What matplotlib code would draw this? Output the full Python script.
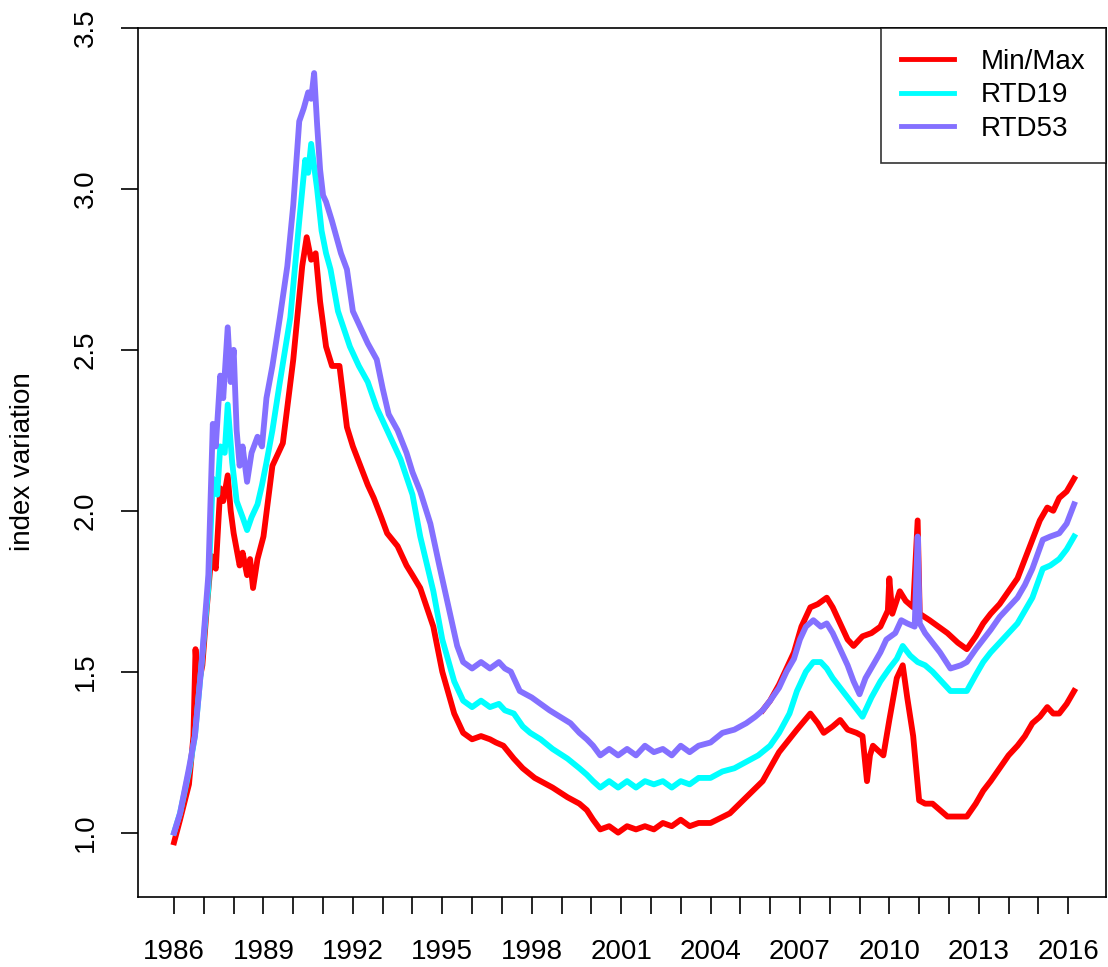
import matplotlib
matplotlib.use("Agg")
import matplotlib.pyplot as plt

plt.rcParams['font.family'] = ['Liberation Sans', 'DejaVu Sans']

# ---- data (year, value) ----
rtd53_t = [1986.0, 1986.2, 1986.5, 1986.7, 1986.9, 1987.05, 1987.15, 1987.3, 1987.4, 1987.55,
           1987.65, 1987.8, 1987.9, 1988.0, 1988.1, 1988.2, 1988.3, 1988.45, 1988.6, 1988.8,
           1988.95, 1989.1, 1989.3, 1989.55, 1989.8, 1990.0, 1990.2, 1990.35, 1990.5, 1990.6,
           1990.7, 1990.8, 1990.9, 1991.0, 1991.1, 1991.3, 1991.45, 1991.6, 1991.8, 1992.0,
           1992.25, 1992.5, 1992.8, 1993.0, 1993.2, 1993.5, 1993.8, 1994.0, 1994.26, 1994.6,
           1994.9, 1995.26, 1995.5, 1995.7, 1996.0, 1996.3, 1996.6, 1996.9, 1997.1, 1997.3,
           1997.6, 1998.0, 1998.3, 1998.6, 1998.95, 1999.3, 1999.6, 1999.85, 2000.06, 2000.3,
           2000.6, 2000.9, 2001.2, 2001.5, 2001.8, 2002.1, 2002.4, 2002.7, 2003.0, 2003.3,
           2003.6, 2004.0, 2004.4, 2004.8, 2005.2, 2005.5, 2005.75, 2006.0, 2006.3, 2006.55,
           2006.8, 2007.0, 2007.2, 2007.45, 2007.7, 2007.9, 2008.1, 2008.35, 2008.6, 2008.8,
           2009.0, 2009.2, 2009.45, 2009.7, 2009.9, 2010.2, 2010.4, 2010.6, 2010.85, 2010.95,
           2011.02, 2011.2, 2011.45, 2011.7, 2012.05, 2012.4, 2012.6, 2012.9, 2013.15, 2013.4,
           2013.7, 2014.0, 2014.3, 2014.55, 2014.8, 2015.15, 2015.4, 2015.7, 2015.95, 2016.2]
rtd53_v = [1.00, 1.06, 1.20, 1.30, 1.50, 1.68, 1.80, 2.27, 2.20, 2.42,
           2.35, 2.57, 2.40, 2.50, 2.25, 2.14, 2.20, 2.09, 2.18, 2.23,
           2.20, 2.35, 2.45, 2.60, 2.76, 2.95, 3.21, 3.25, 3.30, 3.28,
           3.36, 3.20, 3.06, 2.98, 2.96, 2.90, 2.85, 2.80, 2.75, 2.62,
           2.57, 2.52, 2.47, 2.38, 2.30, 2.25, 2.18, 2.12, 2.06, 1.96,
           1.83, 1.68, 1.58, 1.53, 1.51, 1.53, 1.51, 1.53, 1.51, 1.50,
           1.44, 1.42, 1.40, 1.38, 1.36, 1.34, 1.31, 1.29, 1.27, 1.24,
           1.26, 1.24, 1.26, 1.24, 1.27, 1.25, 1.26, 1.24, 1.27, 1.25,
           1.27, 1.28, 1.31, 1.32, 1.34, 1.36, 1.38, 1.41, 1.45, 1.50,
           1.54, 1.60, 1.64, 1.66, 1.64, 1.65, 1.62, 1.57, 1.52, 1.47,
           1.43, 1.48, 1.52, 1.56, 1.60, 1.62, 1.66, 1.65, 1.64, 1.92,
           1.65, 1.62, 1.59, 1.56, 1.51, 1.52, 1.53, 1.57, 1.60, 1.63,
           1.67, 1.70, 1.73, 1.77, 1.82, 1.91, 1.92, 1.93, 1.96, 2.02]

rtd19_t = [1986.0, 1986.2, 1986.5, 1986.7, 1986.9, 1987.05, 1987.15, 1987.3, 1987.45, 1987.55,
           1987.7, 1987.8, 1987.95, 1988.1, 1988.3, 1988.45, 1988.6, 1988.8, 1988.95, 1989.1,
           1989.3, 1989.55, 1989.9, 1990.2, 1990.4, 1990.5, 1990.6, 1990.8, 1990.95, 1991.1,
           1991.25, 1991.5, 1991.9, 1992.2, 1992.5, 1992.8, 1993.0, 1993.3, 1993.6, 1994.0,
           1994.26, 1994.7, 1995.0, 1995.4, 1995.7, 1996.0, 1996.3, 1996.6, 1996.9, 1997.1,
           1997.4, 1997.7, 1997.95, 1998.3, 1998.7, 1999.2, 1999.6, 1999.85, 2000.06, 2000.3,
           2000.6, 2000.9, 2001.2, 2001.5, 2001.8, 2002.1, 2002.4, 2002.7, 2003.0, 2003.3,
           2003.6, 2004.0, 2004.4, 2004.8, 2005.2, 2005.6, 2006.0, 2006.3, 2006.65, 2006.9,
           2007.2, 2007.45, 2007.7, 2007.9, 2008.1, 2008.35, 2008.6, 2008.85, 2009.1, 2009.4,
           2009.7, 2010.0, 2010.25, 2010.45, 2010.7, 2010.95, 2011.2, 2011.45, 2011.75, 2012.05,
           2012.4, 2012.6, 2012.9, 2013.15, 2013.4, 2013.7, 2014.0, 2014.3, 2014.55, 2014.8,
           2015.15, 2015.4, 2015.7, 2015.95, 2016.2]
rtd19_v = [1.00, 1.06, 1.19, 1.30, 1.50, 1.66, 1.76, 2.10, 2.05, 2.20,
           2.18, 2.33, 2.15, 2.03, 1.98, 1.94, 1.98, 2.02, 2.08, 2.15,
           2.25, 2.40, 2.60, 2.90, 3.09, 3.05, 3.14, 3.00, 2.87, 2.80,
           2.75, 2.62, 2.51, 2.45, 2.40, 2.32, 2.28, 2.22, 2.16, 2.05,
           1.92, 1.75, 1.60, 1.47, 1.41, 1.39, 1.41, 1.39, 1.40, 1.38,
           1.37, 1.33, 1.31, 1.29, 1.26, 1.23, 1.20, 1.18, 1.16, 1.14,
           1.16, 1.14, 1.16, 1.14, 1.16, 1.15, 1.16, 1.14, 1.16, 1.15,
           1.17, 1.17, 1.19, 1.20, 1.22, 1.24, 1.27, 1.31, 1.37, 1.44,
           1.50, 1.53, 1.53, 1.51, 1.48, 1.45, 1.42, 1.39, 1.36, 1.42,
           1.47, 1.51, 1.54, 1.58, 1.55, 1.53, 1.52, 1.50, 1.47, 1.44,
           1.44, 1.44, 1.49, 1.53, 1.56, 1.59, 1.62, 1.65, 1.69, 1.73,
           1.82, 1.83, 1.85, 1.88, 1.92]

minmax_t = [1986.0, 1986.2, 1986.5, 1986.65, 1986.72, 1986.8, 1986.95, 1987.1, 1987.25, 1987.4,
            1987.55, 1987.65, 1987.8, 1987.9, 1988.0, 1988.2, 1988.3, 1988.45, 1988.55, 1988.65,
            1988.8, 1989.0, 1989.3, 1989.65, 1990.0, 1990.3, 1990.45, 1990.6, 1990.75, 1990.9,
            1991.1, 1991.3, 1991.55, 1991.8, 1992.0, 1992.25, 1992.5, 1992.7, 1992.95, 1993.15,
            1993.5, 1993.8, 1994.0, 1994.26, 1994.7, 1995.0, 1995.4, 1995.7, 1996.0, 1996.3,
            1996.6, 1996.8, 1997.05, 1997.4, 1997.7, 1998.1, 1998.7, 1999.2, 1999.6, 1999.85,
            2000.06, 2000.3, 2000.6, 2000.9, 2001.2, 2001.5, 2001.8, 2002.1, 2002.4, 2002.7,
            2003.0, 2003.3, 2003.6, 2004.0, 2004.65, 2005.2, 2005.75, 2006.3, 2006.9, 2007.35,
            2007.6, 2007.8, 2008.1, 2008.35, 2008.6, 2008.9, 2009.1, 2009.25, 2009.35, 2009.45,
            2009.8, 2010.0, 2010.25, 2010.45, 2010.6, 2010.8, 2011.0, 2011.2, 2011.45, 2011.7,
            2011.95, 2012.3, 2012.6, 2012.9, 2013.15, 2013.4, 2013.7, 2014.0, 2014.3, 2014.55,
            2014.8, 2015.05, 2015.3, 2015.5, 2015.7, 2015.95, 2016.2]
minmax_v = [0.97, 1.04, 1.15, 1.30, 1.57, 1.45, 1.52, 1.70, 1.86, 1.82,
            2.07, 2.03, 2.11, 2.00, 1.93, 1.83, 1.87, 1.80, 1.85, 1.76,
            1.85, 1.92, 2.14, 2.21, 2.47, 2.76, 2.85, 2.78, 2.80, 2.65,
            2.51, 2.45, 2.45, 2.26, 2.20, 2.14, 2.08, 2.04, 1.98, 1.93,
            1.89, 1.83, 1.80, 1.76, 1.64, 1.50, 1.37, 1.31, 1.29, 1.30,
            1.29, 1.28, 1.27, 1.23, 1.20, 1.17, 1.14, 1.11, 1.09, 1.07,
            1.04, 1.01, 1.02, 1.00, 1.02, 1.01, 1.02, 1.01, 1.03, 1.02,
            1.04, 1.02, 1.03, 1.03, 1.06, 1.11, 1.16, 1.25, 1.32, 1.37,
            1.34, 1.31, 1.33, 1.35, 1.32, 1.31, 1.30, 1.16, 1.24, 1.27,
            1.24, 1.35, 1.48, 1.52, 1.42, 1.30, 1.10, 1.09, 1.09, 1.07,
            1.05, 1.05, 1.05, 1.09, 1.13, 1.16, 1.20, 1.24, 1.27, 1.30,
            1.34, 1.36, 1.39, 1.37, 1.37, 1.40, 1.44]

# second red trace, only visible above RTD53 from 2006 on
upper_t = [2005.75, 2006.0, 2006.3, 2006.55, 2006.8, 2007.05, 2007.35, 2007.6, 2007.9, 2008.1,
           2008.35, 2008.6, 2008.8, 2009.1, 2009.4, 2009.7, 2009.95, 2010.0, 2010.1, 2010.35,
           2010.55, 2010.8, 2010.95, 2011.02, 2011.35, 2011.65, 2011.95, 2012.3, 2012.6, 2012.9,
           2013.15, 2013.4, 2013.7, 2014.0, 2014.3, 2014.55, 2014.8, 2015.05, 2015.3, 2015.5,
           2015.7, 2015.95, 2016.2]
upper_v = [1.38, 1.41, 1.46, 1.51, 1.56, 1.64, 1.70, 1.71, 1.73, 1.70,
           1.65, 1.60, 1.58, 1.61, 1.62, 1.64, 1.69, 1.79, 1.68, 1.75,
           1.72, 1.70, 1.97, 1.68, 1.66, 1.64, 1.62, 1.59, 1.57, 1.61,
           1.65, 1.68, 1.71, 1.75, 1.79, 1.85, 1.91, 1.97, 2.01, 2.00,
           2.04, 2.06, 2.10]

years = list(range(1986, 2017))
year_labels = [str(y) if (y - 1986) % 3 == 0 else '' for y in years]
y_ticks = [1.0, 1.5, 2.0, 2.5, 3.0, 3.5]

RED = '#FF0000'
CYAN = '#00FFFF'
SLATE = '#8470FF'
FS = 20
LW = 4.2

fig = plt.figure(figsize=(11.08, 9.67), dpi=100)
ax = fig.add_axes([138 / 1108, 1 - 897 / 967, (1106 - 138) / 1108, (897 - 28) / 967])

ax.plot(minmax_t, minmax_v, color=RED, lw=LW, label='Min/Max', solid_joinstyle='round')
ax.plot(upper_t, upper_v, color=RED, lw=LW, solid_joinstyle='round')
ax.plot(rtd19_t, rtd19_v, color=CYAN, lw=LW, label='RTD19', solid_joinstyle='round')
ax.plot(rtd53_t, rtd53_v, color=SLATE, lw=LW, label='RTD53', solid_joinstyle='round')

ax.set_xlim(1984.79, 2017.27)
ax.set_ylim(0.8, 3.5)

ax.set_xticks(years)
ax.set_xticklabels(year_labels)
ax.set_yticks(y_ticks)
ax.set_yticklabels(['1.0', '1.5', '2.0', '2.5', '3.0', '3.5'])
ax.tick_params(axis='both', direction='out', length=12, width=1.2, labelsize=FS, colors='black')
ax.tick_params(axis='x', pad=18)
ax.tick_params(axis='y', pad=16)
plt.setp(ax.get_yticklabels(), rotation=90, va='center')

for s in ax.spines.values():
    s.set_linewidth(1.2)
    s.set_color('black')

fig.text(23 / 1108, 1 - 462 / 967, 'index variation', rotation=90, ha='center', va='center', fontsize=FS)

leg = ax.legend(loc='upper right', fontsize=FS, frameon=True, fancybox=False,
                borderaxespad=0, handlelength=1.9, handletextpad=0.95, labelspacing=0.27,
                borderpad=0.75)
leg.get_frame().set_edgecolor('black')
leg.get_frame().set_linewidth(1.2)
for h in leg.get_lines():
    h.set_linewidth(3.5)

fig.savefig('out.png', dpi=100)
